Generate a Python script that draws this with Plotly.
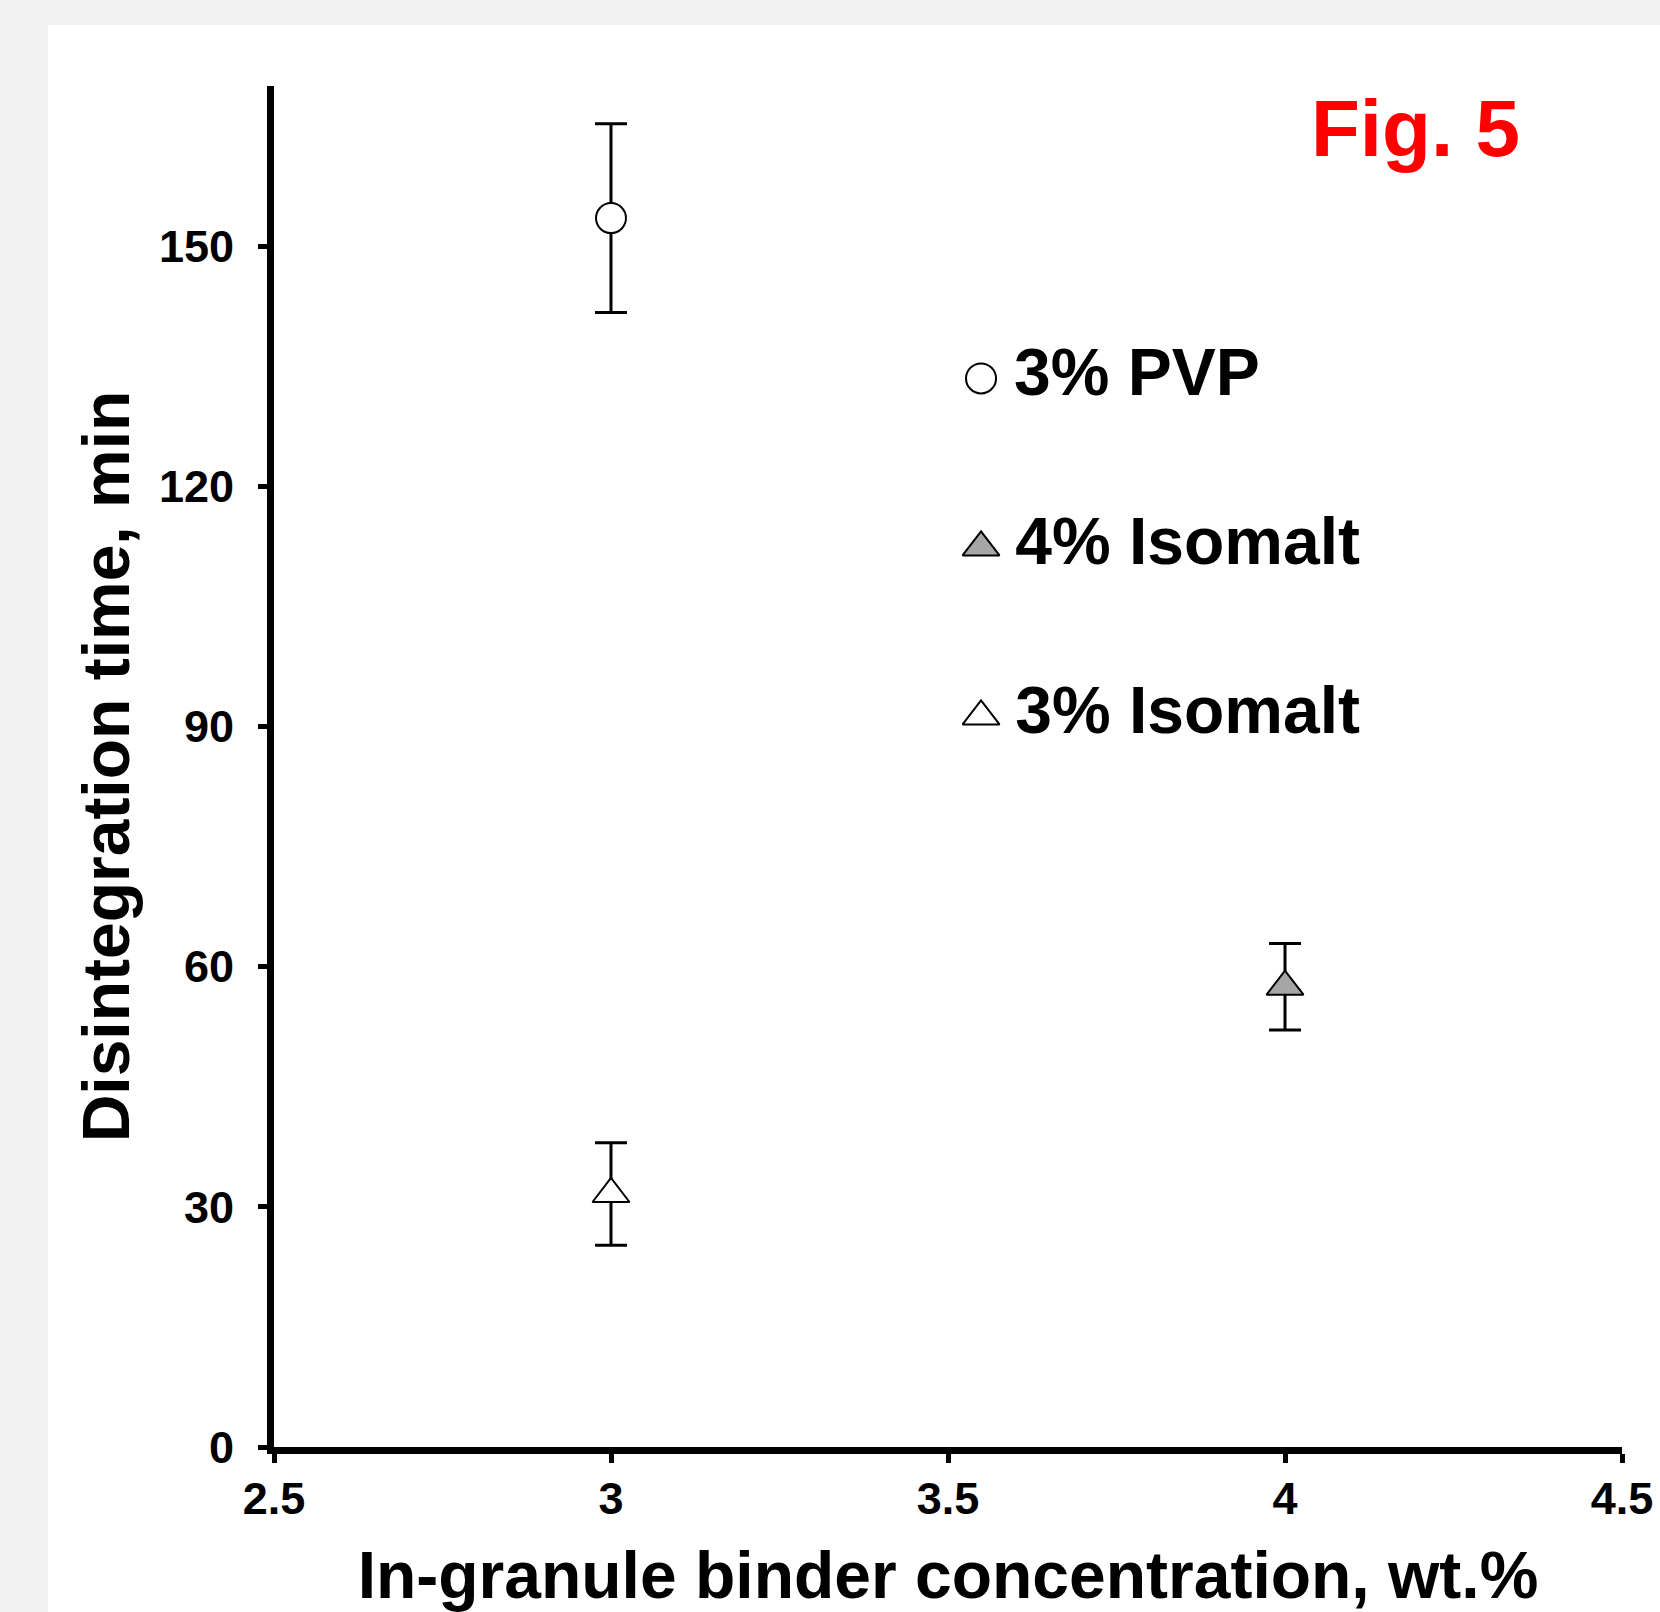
import plotly.graph_objects as go

# ---- data ----
series_names = ["3% PVP", "4% Isomalt", "3% Isomalt"]
binder_conc = [3, 4, 3]                      # wt.%
disintegration_time = [153.5, 57.5, 31.6]    # min
time_error = [11.8, 5.4, 6.4]                # min
marker_symbols = ["circle", "triangle-up", "triangle-up"]
marker_fills = ["white", "#A6A6A6", "white"]
marker_sizes = [30, 32, 32]

x_ticks = [2.5, 3, 3.5, 4, 4.5]
x_tick_labels = ["2.5", "3", "3.5", "4", "4.5"]
y_ticks = [0, 30, 60, 90, 120, 150]
y_tick_labels = ["0", "30", "60", "90", "120", "150"]
legend_rows = [0, 1, 2]

FONT = "Arial, 'Liberation Sans', sans-serif"

fig = go.Figure()

# data points with error bars
for name, x, y, e, sym, fill, sz in zip(series_names, binder_conc, disintegration_time,
                                         time_error, marker_symbols, marker_fills, marker_sizes):
    fig.add_trace(go.Scatter(
        x=[x], y=[y], name=name, mode="markers", showlegend=False,
        marker=dict(symbol=sym, size=sz, color=fill, line=dict(color="black", width=2)),
        error_y=dict(type="data", array=[e], visible=True, color="black", thickness=3, width=16),
        xaxis="x", yaxis="y",
    ))

# custom legend drawn on an invisible overlay axis
for name, row, sym, fill, sz in zip(series_names, legend_rows, marker_symbols, marker_fills, marker_sizes):
    fig.add_trace(go.Scatter(
        x=[0.5245], y=[row], mode="markers+text", text=["\u2009" + name], textposition="middle right",
        textfont=dict(family=FONT, size=66, color="black", weight="bold"),
        marker=dict(symbol=sym, size=sz, color=fill, line=dict(color="black", width=2)),
        showlegend=False, hoverinfo="skip", xaxis="x2", yaxis="y2",
    ))

fig.update_layout(
    width=1660, height=1612,
    margin=dict(l=274, r=38, t=86, b=165, autoexpand=False),
    paper_bgcolor="#F2F2F2",
    plot_bgcolor="rgba(0,0,0,0)",
    font=dict(family=FONT, color="black"),
    showlegend=False,
    xaxis=dict(
        range=[2.5, 4.5], tickmode="array", tickvals=x_ticks, ticktext=x_tick_labels,
        showline=True, linecolor="black", linewidth=7, mirror=False,
        ticks="outside", ticklen=9, tickwidth=5, tickcolor="black",
        showgrid=False, zeroline=False,
        tickfont=dict(family=FONT, size=45, color="black", weight="bold"),
        ticklabelstandoff=-3,
        title=dict(text="In-granule binder concentration, wt.%", standoff=38,
                   font=dict(family=FONT, size=66, color="black", weight="bold")),
    ),
    yaxis=dict(
        range=[0, 170], tickmode="array", tickvals=y_ticks, ticktext=y_tick_labels,
        showline=True, linecolor="black", linewidth=7,
        ticks="outside", ticklen=9, tickwidth=5, tickcolor="black",
        showgrid=False, zeroline=False,
        tickfont=dict(family=FONT, size=45, color="black", weight="bold"),
        ticklabelstandoff=15,
        title=dict(text="Disintegration time, min", standoff=10,
                   font=dict(family=FONT, size=66, color="black", weight="bold")),
    ),
    xaxis2=dict(overlaying="x", range=[0, 1], visible=False, domain=[0, 1]),
    yaxis2=dict(overlaying="y", range=[6.323, -1.73], visible=False),
    shapes=[dict(type="rect", xref="paper", yref="paper", x0=-0.1677, x1=1.1,
                 y0=-0.2, y1=1.0448, fillcolor="white", line=dict(width=0), layer="below")],
    annotations=[dict(text="Fig. 5", xref="paper", yref="paper", x=0.8465, y=0.969,
                      xanchor="center", yanchor="middle", showarrow=False,
                      font=dict(family=FONT, size=80, color="#FF0000", weight="bold"))],
)

fig.write_html("out.html", config={"displayModeBar": False},
               post_script="document.body.style.margin='0';document.body.style.overflow='hidden';")
